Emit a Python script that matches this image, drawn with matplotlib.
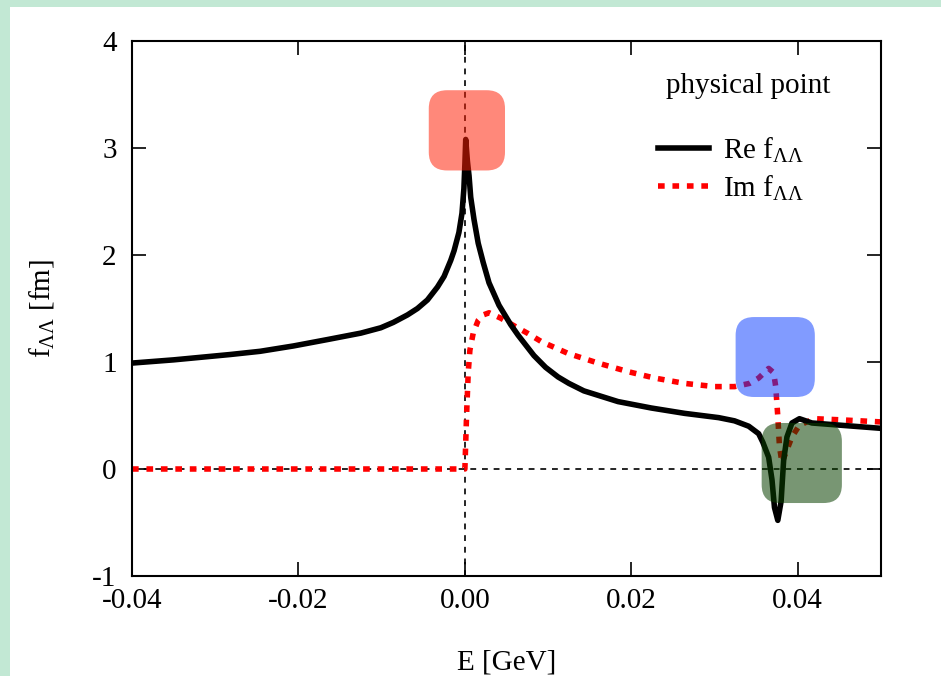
import numpy as np
import matplotlib.pyplot as plt
from matplotlib.patches import FancyBboxPatch, Rectangle

plt.rcParams['font.family'] = ['Liberation Serif', 'DejaVu Serif']
plt.rcParams['mathtext.fontset'] = 'custom'
plt.rcParams['mathtext.rm'] = 'Liberation Serif'
plt.rcParams['mathtext.it'] = 'Liberation Serif'
plt.rcParams['mathtext.bf'] = 'Liberation Serif'
plt.rcParams['axes.unicode_minus'] = False

# Re f_LL
re_E = [-0.04, -0.035, -0.0282, -0.0246, -0.0206, -0.0165, -0.0125, -0.0101,
        -0.0086, -0.0069, -0.0057, -0.0045, -0.0033, -0.0025, -0.0017, -0.0013,
        -0.00072, -0.00035, -0.00012, 0.0, 0.0001, 0.0003, 0.0005, 0.0007,
        0.0011, 0.0016, 0.0022, 0.0029, 0.0041, 0.0055, 0.0064, 0.0071,
        0.0083, 0.0097, 0.0112, 0.0125, 0.0143, 0.0184, 0.0224, 0.0264, 0.0305,
        0.0324, 0.0341, 0.0353, 0.0358, 0.0365, 0.0369, 0.0372, 0.0376,
        0.0380, 0.0381, 0.0383, 0.0387, 0.0393, 0.0402, 0.0417, 0.045, 0.05]
re_f = [0.99, 1.02, 1.07, 1.10, 1.15, 1.21, 1.27, 1.32,
        1.37, 1.44, 1.50, 1.58, 1.70, 1.80, 1.95, 2.04,
        2.21, 2.39, 2.62, 2.85, 3.08, 2.88, 2.74, 2.54,
        2.33, 2.11, 1.93, 1.74, 1.53, 1.35, 1.25, 1.18,
        1.06, 0.95, 0.86, 0.80, 0.73, 0.63, 0.57, 0.52, 0.48,
        0.45, 0.40, 0.33, 0.25, 0.11, -0.10, -0.36, -0.48,
        -0.30, -0.17, 0.08, 0.30, 0.43, 0.47, 0.43, 0.41, 0.38]

# Im f_LL
im_E = [-0.04, 0.0, 0.0001, 0.0002, 0.0004, 0.0006, 0.001, 0.0016, 0.0022,
        0.0029, 0.0043, 0.0061, 0.0075, 0.0092, 0.0124, 0.016, 0.0196,
        0.0228, 0.0264, 0.03, 0.0324, 0.0342, 0.0353, 0.0365, 0.0371,
        0.03735, 0.0376, 0.0378, 0.0381, 0.0387, 0.0393, 0.0402, 0.042,
        0.045, 0.05]
im_f = [0.0, 0.0, 0.25, 0.5, 0.9, 1.11, 1.27, 1.39, 1.44,
        1.46, 1.41, 1.33, 1.27, 1.19, 1.08, 0.99, 0.91,
        0.85, 0.80, 0.77, 0.77, 0.80, 0.85, 0.94, 0.90,
        0.77, 0.49, 0.21, 0.06, 0.18, 0.30, 0.41, 0.47,
        0.46, 0.44]

xticks = [-0.04, -0.02, 0.0, 0.02, 0.04]
xticklabels = ['-0.04', '-0.02', '0.00', '0.02', '0.04']
yticks = [-1, 0, 1, 2, 3, 4]

# highlight boxes: (E_min, E_max, f_min, f_max), colour, alpha
boxes = [((-0.00434, 0.00482, 2.79, 3.54), (1.0, 0.12, 0.02), 0.53),
         ((0.03253, 0.04205, 0.673, 1.42), (0.02, 0.22, 1.0), 0.5),
         ((0.03566, 0.04530, -0.318, 0.43), (0.04, 0.25, 0.0), 0.55)]

fig = plt.figure(figsize=(9.41, 6.76), dpi=100, facecolor='#c2e8d4')
fig.patches.append(Rectangle((10 / 941, 0), 1, 1 - 7 / 676, transform=fig.transFigure,
                             facecolor='white', edgecolor='none', zorder=-10))
ax = fig.add_axes([132 / 941, 1 - 576 / 676, 749 / 941, 535 / 676])

ax.axhline(0, color='black', lw=1.2, dashes=(3.5, 3.5), zorder=1)
ax.axvline(0, color='black', lw=1.2, dashes=(3.5, 3.5), zorder=1)

ax.plot(re_E, re_f, color='black', lw=4.0, solid_joinstyle='round',
        label=r'Re f$_{\Lambda\Lambda}$', zorder=3)
ax.plot(im_E, im_f, color='red', lw=4.0, linestyle=(0, (1.2, 1.4)),
        dash_capstyle='butt', label=r'Im f$_{\Lambda\Lambda}$', zorder=2)

ax.set_xlim(-0.04, 0.05)
ax.set_ylim(-1, 4)

# aspect so that the box corners come out round on screen
asp = (1 / 107) / (0.02 / 166)
for (x0, x1, y0, y1), col, a in boxes:
    p = FancyBboxPatch((x0, y0), x1 - x0, y1 - y0,
                       boxstyle='round,pad=0,rounding_size=0.0022',
                       mutation_aspect=asp, facecolor=col, alpha=a,
                       edgecolor='none', zorder=4)
    ax.add_patch(p)

ax.set_xticks(xticks)
ax.set_xticklabels(xticklabels)
ax.set_yticks(yticks)
ax.tick_params(direction='in', length=10, width=1.2, top=True, right=True,
               labelsize=21)
ax.tick_params(axis='x', pad=9)
ax.tick_params(axis='y', pad=11)
for s in ax.spines.values():
    s.set_linewidth(1.5)

ax.set_xlabel('E [GeV]', fontsize=21, labelpad=25)
ax.set_ylabel(r'f$_{\Lambda\Lambda}$ [fm]', fontsize=21, labelpad=26)

ax.text(0.823, 0.915, 'physical point', transform=ax.transAxes,
        ha='center', va='center', fontsize=21)
ax.legend(loc='upper left', bbox_to_anchor=(0.702, 0.823), frameon=False,
          fontsize=21, handlelength=1.75, handletextpad=0.5, labelspacing=0.3,
          borderpad=0, borderaxespad=0)

fig.savefig('out.png', dpi=100, facecolor=fig.get_facecolor())
